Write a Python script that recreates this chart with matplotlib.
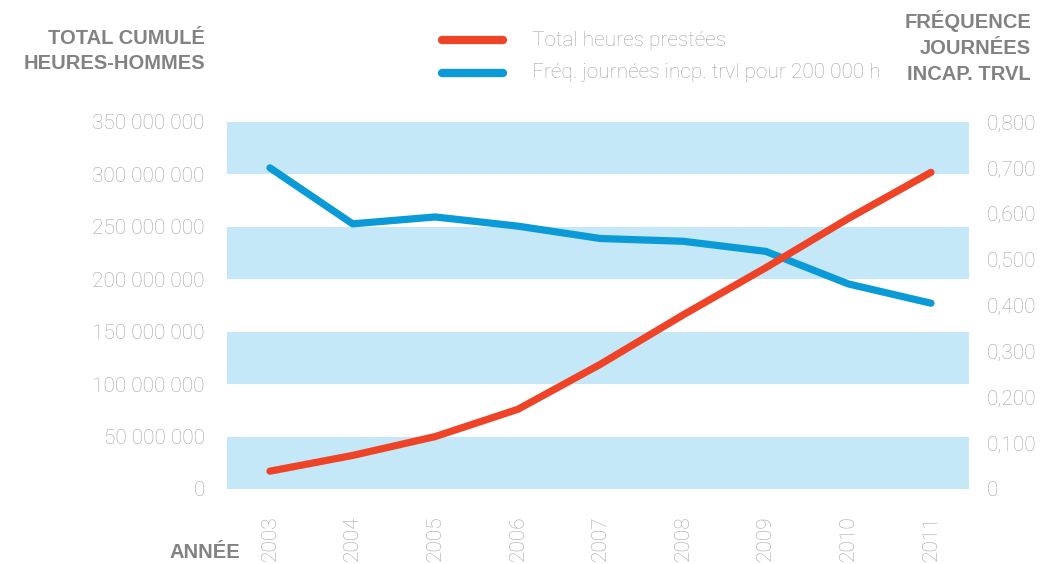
import matplotlib.pyplot as plt
from matplotlib.patches import Rectangle
from matplotlib.ticker import FuncFormatter

# données
annees = [2003, 2004, 2005, 2006, 2007, 2008, 2009, 2010, 2011]
heures = [17e6, 32e6, 50e6, 76e6, 119e6, 166e6, 211e6, 258e6, 302e6]
frequence = [0.700, 0.578, 0.593, 0.573, 0.546, 0.540, 0.518, 0.447, 0.405]

rouge = "#ee4327"
bleu = "#0a9ad8"
bande = "#c5e8f8"
gris_clair = "#a4a4a4"
gris_titre = "#828282"

plt.rcParams["font.family"] = ["Roboto", "DejaVu Sans"]

fig = plt.figure(figsize=(10.47, 5.64), dpi=100)
ax = fig.add_axes([227 / 1047, 1 - 489 / 564, 742 / 1047, 367 / 564])
ax2 = ax.twinx()

# bandes horizontales (sous la ligne bleue)
for y0 in [0, 100e6, 200e6, 300e6]:
    ax2.add_patch(Rectangle((0, y0), 1, 50e6, transform=ax.get_yaxis_transform(),
                            color=bande, lw=0, zorder=0))

ax2.plot(annees, frequence, color=bleu, lw=5.2, solid_capstyle="round",
         solid_joinstyle="round", zorder=2)
ax.set_zorder(ax2.get_zorder() + 1)
ax.patch.set_visible(False)
ax.plot(annees, heures, color=rouge, lw=5.2, solid_capstyle="round",
        solid_joinstyle="round", zorder=3)

ax.set_xlim(2002.48, 2011.46)
ax.set_ylim(0, 350e6)
ax2.set_ylim(0, 0.8)

ax.set_yticks([i * 50e6 for i in range(8)])
ax.yaxis.set_major_formatter(FuncFormatter(
    lambda v, p: "0" if v == 0 else f"{int(v):,}".replace(",", " ")))
ax2.set_yticks([i * 0.1 for i in range(9)])
ax2.yaxis.set_major_formatter(FuncFormatter(
    lambda v, p: "0" if v == 0 else f"{v:.3f}".replace(".", ",")))

ax.set_xticks(annees)
ax.set_xticklabels([str(a) for a in annees], rotation=90, va="top")

for a in (ax, ax2):
    for s in a.spines.values():
        s.set_visible(False)
    a.tick_params(length=0, colors=gris_clair, labelsize=15)
ax.tick_params(axis="y", pad=16)
ax.tick_params(axis="x", pad=19)
ax2.tick_params(axis="y", pad=12.5)
for t in ax.get_xticklabels() + ax.get_yticklabels() + ax2.get_yticklabels():
    t.set_fontweight("light")

# titres des axes
titre = dict(color=gris_titre, fontsize=14.5, fontweight="bold",
             family=["Liberation Sans", "DejaVu Sans"])
fig.text(205 / 1047, 1 - 51 / 564, "TOTAL CUMULÉ\nHEURES-HOMMES", ha="right",
         va="center", linespacing=1.45, **titre)
fig.text(1031 / 1047, 1 - 47 / 564, "FRÉQUENCE\nJOURNÉES\nINCAP. TRVL",
         ha="right", va="center", linespacing=1.45, **titre)
fig.text(240 / 1047, 1 - 552 / 564, "ANNÉE", ha="right", va="center", **titre)

# légende
for yl, col, lab in [(40, rouge, "Total heures prestées"),
                     (73, bleu, "Fréq. journées incp. trvl pour 200 000 h")]:
    fig.add_artist(plt.Line2D([442 / 1047, 503 / 1047], [1 - yl / 564] * 2,
                              color=col, lw=6, solid_capstyle="round"))
    fig.text(532 / 1047, 1 - yl / 564, lab, color=gris_clair, fontsize=15,
             fontweight="light", va="center", ha="left")

fig.savefig("out.png", dpi=100)
